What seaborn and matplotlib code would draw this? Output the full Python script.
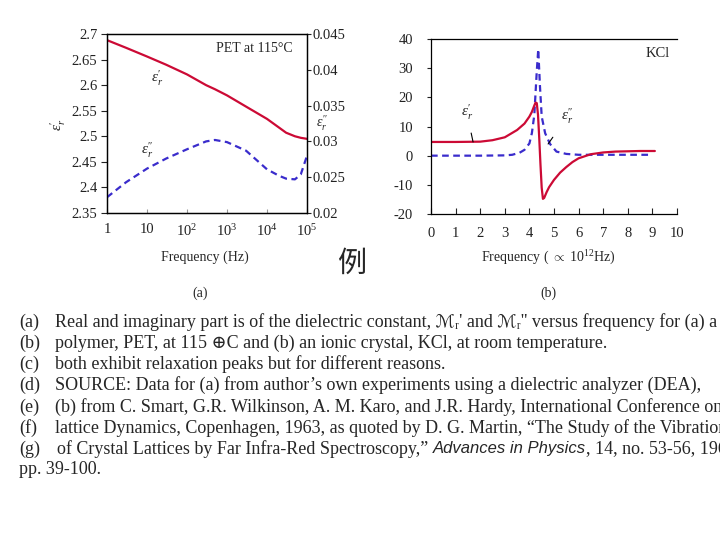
import matplotlib
matplotlib.use("Agg")
import matplotlib.pyplot as plt
import seaborn as sns
import pandas as pd

sns.set_style("ticks")
plt.rcParams['font.family'] = ['Liberation Serif', 'DejaVu Serif', 'DejaVu Sans', 'Noto Sans CJK SC']
plt.rcParams['mathtext.fontset'] = 'custom'
plt.rcParams['mathtext.rm'] = 'Liberation Serif'
plt.rcParams['mathtext.it'] = 'Liberation Serif:italic'
plt.rcParams['axes.unicode_minus'] = False

RED = '#cc0a35'
BLUE = '#3a2ccc'

# (a) PET at 115 C
pet_freq = [1, 3, 10, 30, 100, 300, 500, 1000, 3000, 1e4, 2e4, 3e4, 5e4, 7e4, 1e5]
pet_eps_real = [2.688, 2.673, 2.656, 2.640, 2.621, 2.600, 2.592, 2.580, 2.558, 2.534,
                2.517, 2.507, 2.500, 2.497, 2.495]
pet_eps_imag = [0.0222, 0.0243, 0.0262, 0.0276, 0.0289, 0.0300, 0.0302, 0.0299, 0.0287,
                0.0261, 0.0252, 0.0248, 0.0247, 0.0254, 0.0280]
pet_yticks = [2.35, 2.4, 2.45, 2.5, 2.55, 2.6, 2.65, 2.7]
pet_ylabels = ['2.35', '2.4', '2.45', '2.5', '2.55', '2.6', '2.65', '2.7']
pet_y2ticks = [0.02, 0.025, 0.03, 0.035, 0.04, 0.045]
pet_y2labels = ['0.02', '0.025', '0.03', '0.035', '0.04', '0.045']
pet_xticks = [1, 10, 1e2, 1e3, 1e4, 1e5]
pet_xlabels = ['1', '10', '10$^2$', '10$^3$', '10$^4$', '10$^5$']

# (b) KCl at room temperature
kcl_freq_real = [0, 1, 2, 2.5, 3, 3.5, 3.8, 4.0, 4.1, 4.2, 4.25, 4.3, 4.35, 4.4, 4.45, 4.5,
                 4.55, 4.6, 4.7, 4.8, 5.0, 5.25, 5.5, 5.75, 6.0, 6.5, 7.0, 7.5, 8.0, 8.5, 9.1]
kcl_eps_real = [4.7, 4.7, 4.8, 5.3, 6.3, 8.8, 11.0, 13.4, 15.0, 17.2, 18.2, 18.0, 14.0, 6.0,
                -3.0, -11.0, -14.8, -14.5, -12.5, -10.8, -8.3, -5.8, -3.9, -2.2, -0.9, 0.5,
                1.1, 1.4, 1.5, 1.6, 1.6]
kcl_freq_imag = [0, 1, 2, 3, 3.3, 3.6, 3.8, 4.0, 4.1, 4.2, 4.3, 4.36, 4.43, 4.5, 4.64, 4.84,
                 5.1, 5.5, 6.0, 7.0, 8.0, 9.0]
kcl_eps_imag = [0.0, 0.0, 0.0, 0.1, 0.3, 1.0, 2.0, 4.2, 7.7, 14.0, 29.0, 36.5, 23.7, 13.4,
                7.7, 4.0, 1.4, 0.6, 0.3, 0.3, 0.3, 0.3]
kcl_yticks = [-20, -10, 0, 10, 20, 30, 40]
kcl_xticks = [0, 1, 2, 3, 4, 5, 6, 7, 8, 9, 10]

caption_tags = ['(a)', '(b)', '(c)', '(d)', '(e)', '(f)', '(g)']
caption_lines = [
    "Real and imaginary part is of the dielectric constant, \u2133\u1d63' and \u2133\u1d63'' versus frequency for (a) a",
    "polymer, PET, at 115 \u2295C and (b) an ionic crystal, KCl, at room temperature.",
    "both exhibit relaxation peaks but for different reasons.",
    "SOURCE: Data for (a) from author\u2019s own experiments using a dielectric analyzer (DEA),",
    "(b) from C. Smart, G.R. Wilkinson, A. M. Karo, and J.R. Hardy, International Conference on",
    "lattice Dynamics, Copenhagen, 1963, as quoted by D. G. Martin, \u201cThe Study of the Vibrations",
]
caption_last = ["of Crystal Lattices by Far Infra-Red Spectroscopy,\u201d ", "Advances in Physics",
                ", 14, no. 53-56, 1965,"]
caption_end = "pp. 39-100."

W, H = 720, 540
fig = plt.figure(figsize=(7.2, 5.4), dpi=100)


def fx(px):
    return px / W


def fy(py):
    return 1 - py / H


# ---- panel (a)
ax = fig.add_axes([fx(107), fy(213), 200 / W, 179 / H])
pet = pd.DataFrame({'freq': pet_freq, 'real': pet_eps_real, 'imag': pet_eps_imag})
sns.lineplot(data=pet, x='freq', y='real', ax=ax, color=RED, linewidth=1.6)
ax.set_xscale('log')
ax.set_xlim(1, 1e5)
ax.set_ylim(2.35, 2.7)
ax.set_yticks(pet_yticks)
ax.set_yticklabels(pet_ylabels)
ax.set_xticks(pet_xticks)
ax.set_xticklabels(pet_xlabels)
ax.minorticks_off()
ax.set_xlabel('')
ax.set_ylabel('')
ax.tick_params(axis='y', direction='out', length=4, width=0.8, pad=3, labelsize=10.5,
               colors='#222222')
ax.tick_params(axis='x', direction='in', length=3, width=0.8, pad=7, labelsize=10.5,
               color='#999999', labelcolor='#222222')

ax2 = ax.twinx()
sns.lineplot(data=pet, x='freq', y='imag', ax=ax2, color=BLUE, linewidth=1.6,
             linestyle=(0, (3, 2)))
ax2.set_ylim(0.02, 0.045)
ax2.set_yticks(pet_y2ticks)
ax2.set_yticklabels(pet_y2labels)
ax2.set_ylabel('')
ax2.tick_params(axis='y', direction='out', length=3, width=0.8, pad=1, labelsize=10.5,
                colors='#222222')
for a in (ax, ax2):
    for s in a.spines.values():
        s.set_linewidth(0.9)
        s.set_color('black')

ax.text(0.93, 0.92, 'PET at 115\u00b0C', transform=ax.transAxes, ha='right', va='center',
        fontsize=10)
ax.text(0.25, 0.75, r"$\varepsilon_r'$", transform=ax.transAxes, ha='center', va='center',
        fontsize=11)
ax.text(0.2, 0.35, r"$\varepsilon_r''$", transform=ax.transAxes, ha='center', va='center',
        fontsize=11)
fig.text(fx(58), fy(125), r"$\varepsilon_r'$", rotation=90, ha='center', va='center',
         fontsize=11)
fig.text(fx(322), fy(123), r"$\varepsilon_r''$", ha='center', va='center', fontsize=10)
fig.text(fx(205), fy(257), 'Frequency (Hz)', ha='center', va='center', fontsize=10)
fig.text(fx(200), fy(293), '(a)', ha='center', va='center', fontsize=10)

# ---- panel (b)
bx = fig.add_axes([fx(431), fy(214), 246 / W, 175 / H])
real_df = pd.DataFrame({'freq': kcl_freq_real, 'eps': kcl_eps_real})
imag_df = pd.DataFrame({'freq': kcl_freq_imag, 'eps': kcl_eps_imag})
sns.lineplot(data=imag_df, x='freq', y='eps', ax=bx, color=BLUE, linewidth=1.6,
             linestyle=(0, (3, 2)))
sns.lineplot(data=real_df, x='freq', y='eps', ax=bx, color=RED, linewidth=1.6)
bx.set_xlim(0, 10)
bx.set_ylim(-20, 40)
bx.set_xticks(kcl_xticks)
bx.set_yticks(kcl_yticks)
bx.set_xlabel('')
bx.set_ylabel('')
bx.spines['right'].set_visible(False)
for s in bx.spines.values():
    s.set_linewidth(0.9)
    s.set_color('black')
bx.tick_params(axis='y', direction='out', length=3, width=0.8, pad=10, labelsize=10.5,
               colors='#222222')
bx.tick_params(axis='x', direction='in', length=4, width=0.8, pad=9, labelsize=10.5,
               colors='#222222')

bx.text(0.92, 0.92, 'KCl', transform=bx.transAxes, ha='center', va='center', fontsize=10.5)
bx.annotate(r"$\varepsilon_r'$", xy=(1.71, 4.7), xytext=(1.45, 15.0), fontsize=11,
            ha='center', va='center',
            arrowprops=dict(arrowstyle='-', color='black', lw=0.8, shrinkA=6, shrinkB=0))
bx.annotate(r"$\varepsilon_r''$", xy=(4.76, 4.0), xytext=(5.55, 13.5), fontsize=11,
            ha='center', va='center',
            arrowprops=dict(arrowstyle='-', color='black', lw=0.8, shrinkA=7, shrinkB=0))
fig.text(fx(548), fy(258), r"Frequency ( $\propto$ 10$^{12}$Hz)", ha='center', va='center',
         fontsize=10)
fig.text(fx(548), fy(293), '(b)', ha='center', va='center', fontsize=10)

fig.text(fx(352), fy(264), '\u4f8b', family=['Noto Sans CJK SC', 'DejaVu Sans'],
         ha='center', va='center', fontsize=21)

# ---- caption
CAP = 13
line_y = [322, 343, 364, 385, 407, 428, 449, 470]
for i, (tag, body) in enumerate(zip(caption_tags[:6], caption_lines)):
    fig.text(fx(19), fy(line_y[i]), tag, ha='left', va='center', fontsize=CAP)
    fig.text(fx(55), fy(line_y[i]), body, ha='left', va='center', fontsize=CAP)

fig.text(fx(19), fy(line_y[6]), caption_tags[6], ha='left', va='center', fontsize=CAP)
renderer = fig.canvas.get_renderer()
x_px = 57
for j, piece in enumerate(caption_last):
    kw = dict(ha='left', va='center', fontsize=CAP)
    if j == 1:
        kw.update(style='italic', fontsize=CAP - 1,
                  family=['Liberation Sans Narrow', 'Liberation Sans', 'DejaVu Sans'])
    t = fig.text(fx(x_px), fy(line_y[6]), piece, **kw)
    x_px += t.get_window_extent(renderer).width
fig.text(fx(19), fy(line_y[7]), caption_end, ha='left', va='center', fontsize=CAP)

fig.savefig('out.png', dpi=100)
